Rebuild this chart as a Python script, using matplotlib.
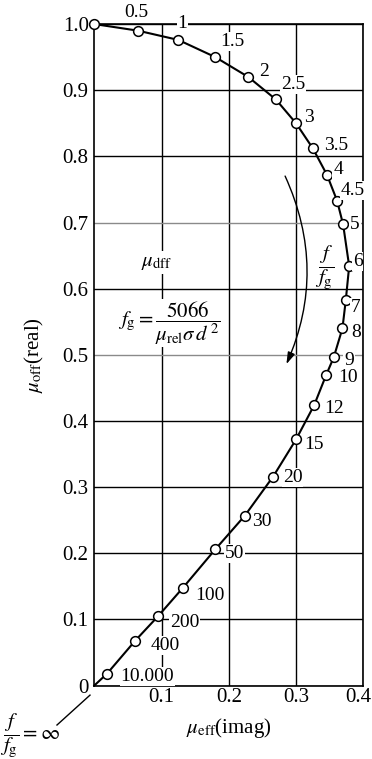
import numpy as np
import matplotlib.pyplot as plt
import matplotlib.transforms as mtransforms
from matplotlib.patches import FancyArrowPatch

plt.rcParams['font.family'] = ['Liberation Serif', 'DejaVu Serif']
plt.rcParams['mathtext.fontset'] = 'stix'

# f/fg values and the read-off complex permeability points
f_labels = ['', '0.5', '1', '1.5', '2', '2.5', '3', '3.5', '4', '4.5', '5', '6', '7',
            '8', '9', '10', '12', '15', '20', '30', '50', '100', '200', '400', '10.000', '']
mu_imag = [0.0, 0.065, 0.125, 0.180, 0.229, 0.270, 0.300, 0.325, 0.346, 0.361, 0.370,
           0.379, 0.374, 0.369, 0.356, 0.345, 0.327, 0.300, 0.266, 0.224, 0.180, 0.132,
           0.095, 0.061, 0.019, 0.0]
mu_real = [1.0, 0.990, 0.976, 0.950, 0.920, 0.886, 0.850, 0.812, 0.772, 0.733, 0.697,
           0.634, 0.583, 0.540, 0.496, 0.470, 0.424, 0.372, 0.316, 0.257, 0.206, 0.148,
           0.105, 0.068, 0.018, 0.0]

# label offsets in points (dx, dy)
label_offsets = [(0, 0), (-1, 13), (3, 12), (12.5, 11), (11, 4), (12.5, 11), (9.5, 4.5),
                 (16.5, 2), (8, 4), (11.5, 7), (8.5, 0), (6, 3.6), (7, -5.5), (9.5, -3),
                 (11, -2.5), (15.5, -2), (14, -2.5), (13, -3.6), (14, -1), (12.5, -4.5),
                 (14, -3), (19, -6), (19, -4.5), (21.5, -3.5), (29, -2), (0, 0)]

x_ticks = [0.1, 0.2, 0.3, 0.4]
y_ticks = [0, 0.1, 0.2, 0.3, 0.4, 0.5, 0.6, 0.7, 0.8, 0.9, 1.0]
y_ticklabels = ['0', '0.1', '0.2', '0.3', '0.4', '0.5', '0.6', '0.7', '0.8', '0.9', '1.0']

fig = plt.figure(figsize=(3.72, 7.59), dpi=100)
ax = fig.add_axes([0.2535, 0.0968, 0.7231, 0.8715])

ax.set_xlim(0, 0.4)
ax.set_ylim(0, 1.0)
ax.set_xticks(x_ticks)
ax.set_yticks(y_ticks)
ax.set_yticklabels(y_ticklabels)
ax.tick_params(length=0, labelsize=15)
ax.tick_params(axis='y', pad=4)
ax.tick_params(axis='x', pad=2)
ax.grid(True, color='black', lw=1.0)
ax.set_axisbelow(True)
for i in (5, 7):
    ax.get_ygridlines()[i].set_color('#8a8a8a')
for sp in ax.spines.values():
    sp.set_linewidth(1.2)

# last x label sits a little to the left so it stays inside the figure
last = ax.get_xticklabels()[-1]
last.set_transform(last.get_transform() +
                   mtransforms.ScaledTranslation(-5 / 100, 0, fig.dpi_scale_trans))

# curve and markers
ax.plot(mu_imag, mu_real, color='black', lw=1.5, zorder=3, clip_on=False)
ax.plot(mu_imag[:-1], mu_real[:-1], 'o', ms=7, mfc='white', mec='black', mew=1.1,
        zorder=4, clip_on=False)

for lab, x, y, off in zip(f_labels, mu_imag, mu_real, label_offsets):
    if lab == '':
        continue
    ax.annotate(lab, (x, y), xytext=off, textcoords='offset points', fontsize=14,
                ha='center', va='center', zorder=5,
                bbox=dict(boxstyle='square,pad=0.05', fc='white', ec='none'))

ax.set_xlabel(r'$\mu_{\rm eff}$(imag)', fontsize=15, labelpad=6)
ax.set_ylabel(r'$\mu_{\rm off}$(real)', fontsize=15, labelpad=12)

# annotations inside the chart
ax.text(0.093, 0.639, r'$\mu_{\rm dff}$', fontsize=15, ha='center', va='center',
        bbox=dict(boxstyle='square,pad=0.1', fc='white', ec='none'))
ax.text(0.112, 0.548, r'$f_{\rm g}=\dfrac{5066}{\mu_{\rm rel}\sigma\, d^{\,2}}$', fontsize=15,
        ha='center', va='center',
        bbox=dict(boxstyle='square,pad=0.0', fc='white', ec='none'))
ax.text(0.343, 0.633, r'$\dfrac{f}{f_{\rm g}}$', fontsize=15, ha='center', va='center')

arrow = FancyArrowPatch((0.282, 0.774), (0.284, 0.482), connectionstyle='arc3,rad=-0.23',
                        arrowstyle='-|>,head_length=7,head_width=2.2', color='black',
                        lw=1.0, zorder=3)
ax.add_patch(arrow)

# f/fg = infinity marker outside the axes
ax.plot([-0.0555, -0.0064], [-0.0597, -0.0145], color='black', lw=1.0, clip_on=False)
fig.text(0.0, 1 - 735 / 759, r'$\dfrac{f}{f_{\rm g}}=\infty$', fontsize=15,
         ha='left', va='center')

fig.savefig('out.png', dpi=100)
